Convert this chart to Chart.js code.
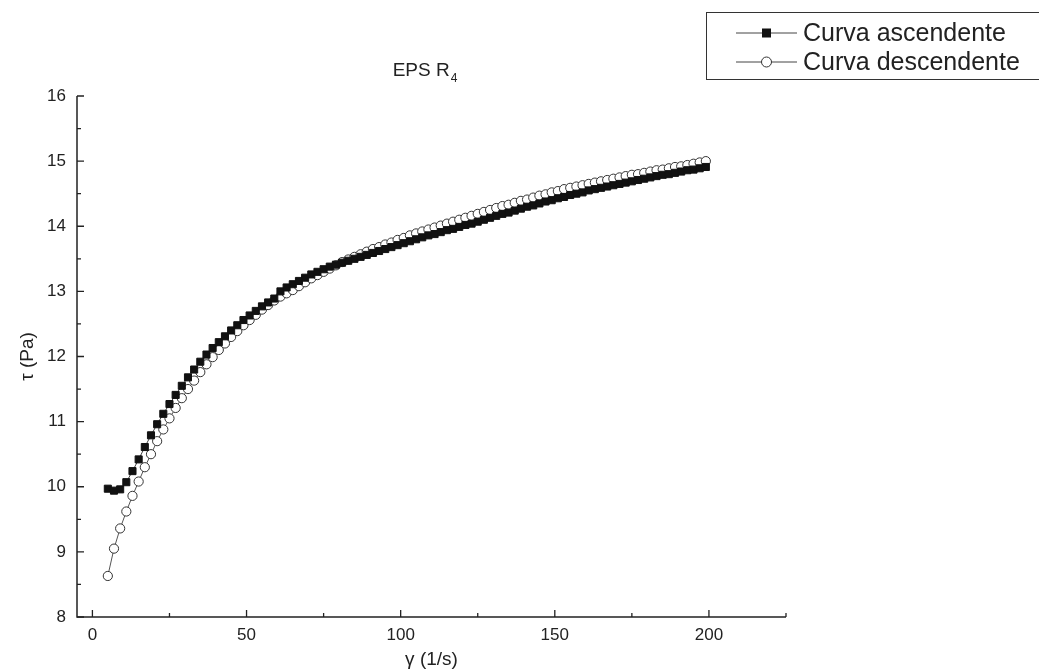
<!DOCTYPE html>
<html>
<head>
<meta charset="utf-8">
<title>EPS R4</title>
<script src="https://cdn.jsdelivr.net/npm/chart.js@4"></script>
<style>
  html, body { margin: 0; padding: 0; background: #fff; }
  #wrap { width: 1039px; height: 671px; }
</style>
</head>
<body>
<div id="wrap"><canvas id="flowChart" width="1039" height="671"></canvas></div>
<script>
// shear rate (1/s), shared by both sweeps
const shearRate = [
  5, 7, 9, 11, 13, 15, 17, 19, 21, 23, 25, 27, 29, 31, 33, 35, 37, 39, 41, 43,
  45, 47, 49, 51, 53, 55, 57, 59, 61, 63, 65, 67, 69, 71, 73, 75, 77, 79, 81, 83,
  85, 87, 89, 91, 93, 95, 97, 99, 101, 103, 105, 107, 109, 111, 113, 115, 117, 119, 121, 123,
  125, 127, 129, 131, 133, 135, 137, 139, 141, 143, 145, 147, 149, 151, 153, 155, 157, 159, 161, 163,
  165, 167, 169, 171, 173, 175, 177, 179, 181, 183, 185, 187, 189, 191, 193, 195, 197, 199
];

// shear stress (Pa), ascending sweep
const stressUp = [
  9.97, 9.94, 9.96, 10.07, 10.24, 10.42, 10.61, 10.79, 10.96, 11.12, 11.27, 11.41, 11.55, 11.68, 11.80, 11.92, 12.03, 12.13, 12.22, 12.31,
  12.40, 12.48, 12.56, 12.63, 12.70, 12.77, 12.83, 12.89, 13.00, 13.06, 13.11, 13.16, 13.21, 13.26, 13.30, 13.34, 13.38, 13.41, 13.44, 13.47,
  13.50, 13.53, 13.56, 13.59, 13.62, 13.65, 13.68, 13.71, 13.74, 13.77, 13.80, 13.83, 13.86, 13.88, 13.91, 13.94, 13.96, 13.99, 14.02, 14.04,
  14.07, 14.10, 14.13, 14.16, 14.19, 14.21, 14.24, 14.27, 14.30, 14.32, 14.35, 14.38, 14.40, 14.43, 14.45, 14.48, 14.50, 14.52, 14.55, 14.57,
  14.59, 14.61, 14.63, 14.65, 14.67, 14.69, 14.71, 14.73, 14.75, 14.77, 14.79, 14.80, 14.82, 14.84, 14.86, 14.87, 14.89, 14.91
];

// shear stress (Pa), descending sweep
const stressDown = [
  8.63, 9.05, 9.36, 9.62, 9.86, 10.08, 10.30, 10.50, 10.70, 10.88, 11.05, 11.21, 11.36, 11.50, 11.63, 11.76, 11.88, 11.99, 12.10, 12.20,
  12.30, 12.39, 12.48, 12.56, 12.64, 12.72, 12.79, 12.86, 12.92, 12.97, 13.02, 13.08, 13.14, 13.20, 13.25, 13.30, 13.35, 13.40, 13.45, 13.49,
  13.53, 13.57, 13.61, 13.65, 13.68, 13.72, 13.75, 13.79, 13.82, 13.86, 13.89, 13.92, 13.95, 13.98, 14.01, 14.04, 14.07, 14.10, 14.13, 14.16,
  14.19, 14.22, 14.25, 14.28, 14.31, 14.33, 14.36, 14.39, 14.41, 14.44, 14.47, 14.49, 14.52, 14.54, 14.57, 14.59, 14.61, 14.63, 14.65, 14.67,
  14.69, 14.71, 14.73, 14.75, 14.77, 14.79, 14.80, 14.82, 14.84, 14.86, 14.87, 14.89, 14.91, 14.92, 14.94, 14.96, 14.98, 15.00
];

const xTicks = [0, 50, 100, 150, 200];
const yTicks = [8, 9, 10, 11, 12, 13, 14, 15, 16];
const seriesNames = ['Curva ascendente', 'Curva descendente'];

const FONT = 'Liberation Sans, Arial, sans-serif';

const toPoints = ys => shearRate.map((x, i) => ({ x: x, y: ys[i] }));

// axes with inward ticks, title with subscript and boxed legend
const framePlugin = {
  id: 'frame',
  afterDraw(chart) {
    const ctx = chart.ctx;
    const xs = chart.scales.x;
    const ys = chart.scales.y;
    const area = chart.chartArea;
    ctx.save();
    ctx.strokeStyle = '#222';
    ctx.lineWidth = 1.5;
    ctx.beginPath();
    ctx.moveTo(area.left, area.top);
    ctx.lineTo(area.left, area.bottom);
    ctx.lineTo(area.right, area.bottom);
    ctx.stroke();

    ctx.lineWidth = 1.3;
    ctx.beginPath();
    for (let v = 0; v <= 225; v += 25) {
      const px = xs.getPixelForValue(v);
      const len = v % 50 === 0 ? 7 : 4;
      ctx.moveTo(px, area.bottom);
      ctx.lineTo(px, area.bottom - len);
    }
    for (let v = 8; v <= 16; v += 0.5) {
      const py = ys.getPixelForValue(v);
      const len = Number.isInteger(v) ? 7 : 4;
      ctx.moveTo(area.left, py);
      ctx.lineTo(area.left + len, py);
    }
    ctx.stroke();

    // title: EPS R with subscript 4
    ctx.fillStyle = '#222';
    ctx.textBaseline = 'alphabetic';
    ctx.textAlign = 'left';
    ctx.font = '19px ' + FONT;
    const main = 'EPS R';
    const mainW = ctx.measureText(main).width;
    ctx.font = '12px ' + FONT;
    const subW = ctx.measureText('4').width;
    const tx = (area.left + area.right) / 2 - (mainW + subW) / 2 - 7;
    ctx.font = '19px ' + FONT;
    ctx.fillText(main, tx, 76);
    ctx.font = '12px ' + FONT;
    ctx.fillText('4', tx + mainW + 1, 82);

    // legend
    ctx.strokeStyle = '#333';
    ctx.lineWidth = 1;
    ctx.strokeRect(706.5, 12.5, 340, 67);
    const rows = [33, 62];
    chart.data.datasets.forEach((ds, i) => {
      const y = rows[i];
      ctx.strokeStyle = '#444';
      ctx.lineWidth = 1;
      ctx.beginPath();
      ctx.moveTo(736, y);
      ctx.lineTo(797, y);
      ctx.stroke();
      if (ds.pointStyle === 'rect') {
        ctx.fillStyle = '#111';
        ctx.fillRect(762, y - 4.5, 9, 9);
      } else {
        ctx.fillStyle = '#fff';
        ctx.strokeStyle = '#333';
        ctx.beginPath();
        ctx.arc(766.5, y, 5, 0, Math.PI * 2);
        ctx.fill();
        ctx.stroke();
      }
      ctx.fillStyle = '#222';
      ctx.font = '25px ' + FONT;
      ctx.textBaseline = 'middle';
      ctx.fillText(ds.label, 803, y + 1);
    });
    ctx.restore();
  }
};

new Chart(document.getElementById('flowChart').getContext('2d'), {
  type: 'scatter',
  data: {
    datasets: [
      {
        label: seriesNames[0],
        data: toPoints(stressUp),
        showLine: true,
        borderColor: '#444',
        borderWidth: 1,
        pointStyle: 'rect',
        pointRadius: 5,
        pointBackgroundColor: '#111',
        pointBorderColor: '#111',
        pointBorderWidth: 1
      },
      {
        label: seriesNames[1],
        data: toPoints(stressDown),
        showLine: true,
        borderColor: '#555',
        borderWidth: 1,
        pointStyle: 'circle',
        pointRadius: 4.6,
        pointBackgroundColor: '#fff',
        pointBorderColor: '#333',
        pointBorderWidth: 1
      }
    ]
  },
  options: {
    responsive: false,
    animation: false,
    devicePixelRatio: 1,
    layout: { padding: { top: 96, right: 253, left: 0, bottom: 0 } },
    plugins: {
      legend: { display: false },
      title: { display: false },
      tooltip: { enabled: false }
    },
    scales: {
      x: {
        type: 'linear',
        min: -5,
        max: 225,
        grid: { display: false, drawTicks: false },
        border: { display: false },
        afterBuildTicks: scale => { scale.ticks = xTicks.map(v => ({ value: v })); },
        afterFit: scale => { scale.height = 54; },
        ticks: { color: '#222', font: { family: FONT, size: 17 }, padding: 8, maxRotation: 0 },
        title: { display: true, text: 'γ (1/s)', color: '#222', font: { family: FONT, size: 19 }, padding: 0 }
      },
      y: {
        type: 'linear',
        min: 8,
        max: 16,
        grid: { display: false, drawTicks: false },
        border: { display: false },
        afterBuildTicks: scale => { scale.ticks = yTicks.map(v => ({ value: v })); },
        afterFit: scale => { scale.width = 77; },
        ticks: { color: '#222', font: { family: FONT, size: 17 }, padding: 11 },
        title: { display: true, text: 'τ (Pa)', color: '#222', font: { family: FONT, size: 19 }, padding: { top: 16, bottom: 0 } }
      }
    }
  },
  plugins: [framePlugin]
});
</script>
</body>
</html>
